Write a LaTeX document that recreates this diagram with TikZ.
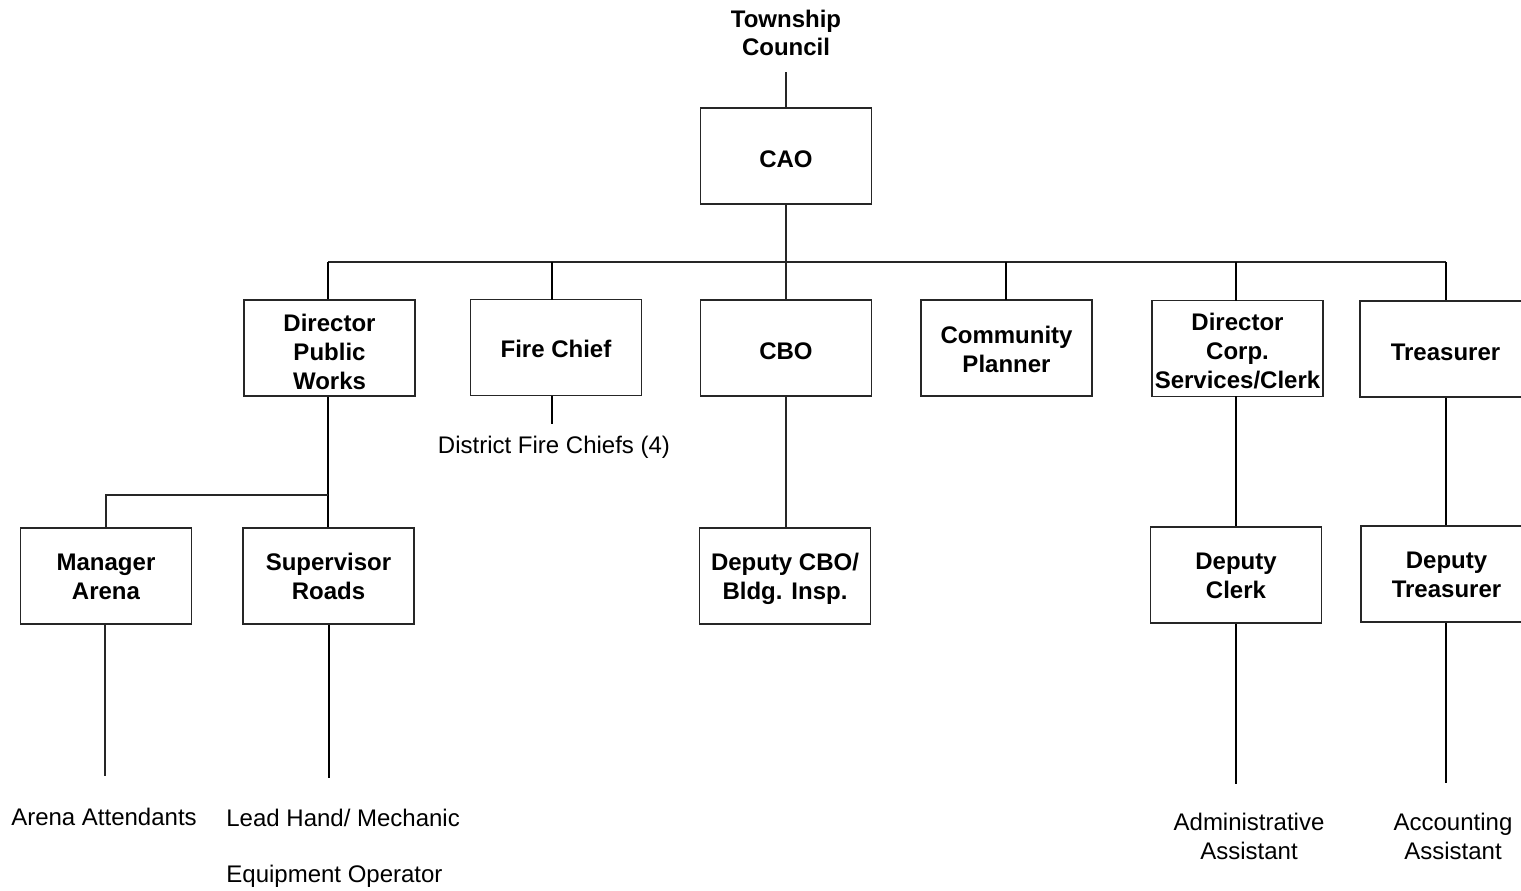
\documentclass[tikz,border=0pt]{standalone}
\usepackage{fontspec}
\setmainfont{Liberation Sans}
\begin{document}
\begin{tikzpicture}[x=0.5pt,y=-0.5pt,
  box/.style={draw=black!85, line width=0.6pt, minimum width=85.5pt, minimum height=48pt, inner sep=0pt},
  lbl/.style={inner sep=0pt, align=center, font=\fontsize{12pt}{14.5pt}\selectfont\bfseries},
  txt/.style={inner sep=0pt, align=center, font=\fontsize{12pt}{14.5pt}\selectfont},
  thin/.style={draw=black!85, line width=0.55pt},
  thick/.style={draw=black, line width=1pt}]
\useasboundingbox (0,0) rectangle (1521,890);
% top
\node[lbl, font=\fontsize{12pt}{14pt}\selectfont\bfseries] (tc) at (786,33) {Township\\Council};
\node[box] (cao) at (786,156) {};
\node[lbl] (caoL) at ([yshift=-1.8pt]cao.center) {CAO};
% second level
\node[box] (dpw) at (329.5,348) {};
\node[lbl] (dpwL) at ([yshift=-1.8pt]dpw.center) {Director\\Public\\Works};
\node[box] (fire) at (556,347.5) {};
\node[lbl] (fireL) at ([yshift=-0.8pt]fire.center) {Fire Chief};
\node[box] (cbo) at (786,348) {};
\node[lbl] (cboL) at ([yshift=-1.8pt]cbo.center) {CBO};
\node[box] (plan) at (1006.5,348) {};
\node[lbl] (planL) at ([yshift=-0.6pt]plan.center) {Community\\Planner};
\node[box] (dcs) at (1237.5,348.5) {};
\node[lbl] (dcsL) at ([yshift=-1.4pt]dcs.center) {Director\\Corp.\\Services/Clerk};
\node[box] (treas) at (1445.5,349) {};
\node[lbl] (treasL) at ([yshift=-1.8pt]treas.center) {Treasurer};
% third level
\node[box] (arena) at (106,576) {};
\node[lbl] (arenaL) at ([yshift=-0.4pt]arena.center) {Manager\\Arena};
\node[box] (roads) at (328.5,576) {};
\node[lbl] (roadsL) at ([yshift=-0.2pt]roads.center) {Supervisor\\Roads};
\node[box] (dcbo) at (785,576) {};
\node[lbl] (dcboL) at ([yshift=-1.6pt]dcbo.center) {Deputy CBO/\\Bldg. Insp.};
\node[box] (dclerk) at (1236,575) {};
\node[lbl] (dclerkL) at ([yshift=-0.6pt]dclerk.center) {Deputy\\Clerk};
\node[box] (dtreas) at (1446.5,574) {};
\node[lbl] (dtreasL) at ([yshift=-0.4pt]dtreas.center) {Deputy\\Treasurer};
% plain texts
\node[txt] (dfc) at (554,447) {District Fire Chiefs (4)};
\node[txt] (att) at (104,817) {Arena Attendants};
\node[txt, anchor=west] (lead) at (226,818) {Lead Hand/ Mechanic};
\node[txt, anchor=west] (equip) at (226,876) {Equipment Operator};
\node[txt] (admin) at (1249,836) {Administrative\\Assistant};
\node[txt] (acct) at (1453,836) {Accounting\\Assistant};
% bus
\coordinate (busL) at (328,262);
\coordinate (busR) at (1446,262);
\coordinate (tcEnd) at (786,72);
\coordinate (j1) at (328,495);
\draw[thin] (tcEnd) -- (cao.north);
\draw[thin] (cao.south) -- (cao.south |- busL);
\draw[thin] (busL) -- (busR);
\draw[thick] (busL) -- (busL |- dpw.north);
\draw[thick] (552,262) -- (552,300);
\draw[thin] (cao.south |- busL) -- (cbo.north);
\draw[thick] (1006,262) -- (1006,300);
\draw[thick] (1236,262) -- (1236,301);
\draw[thick] (busR) -- (busR |- treas.north);
% fire
\draw[thick] ([xshift=-2pt]fire.south) -- ++(0,28);
% public works
\draw[thick] (busL |- dpw.south) -- (busL |- roads.north);
\draw[thin] (j1) -| (arena.north);
\draw[thin] (cbo.south) -- (cbo.south |- dcbo.north);
\draw[thick] (1236,396) -- (dclerk.north);
\draw[thick] (busR |- treas.south) -- (busR |- dtreas.north);
% bottom stubs
\draw[thin] (105,624) -- (105,776);
\draw[thick] (roads.south) -- ++(0,153);
\draw[thick] (dclerk.south) -- ++(0,160);
\draw[thick] (busR |- dtreas.south) -- (1446,783);
\end{tikzpicture}
\end{document}
